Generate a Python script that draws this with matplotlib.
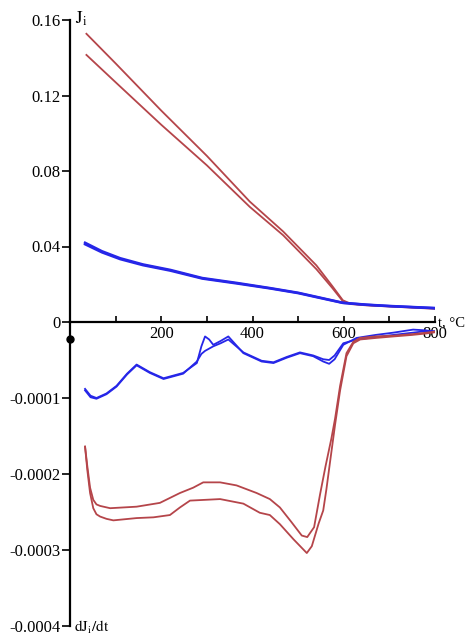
import matplotlib
matplotlib.use("Agg")
import matplotlib.pyplot as plt
from matplotlib.ticker import FixedLocator

plt.rcParams['font.family'] = ['Liberation Serif', 'DejaVu Serif']
plt.rcParams['mathtext.fontset'] = 'stix'

# ---------------- data: upper panel (J_i) ----------------
t_red_top = [36, 100, 200, 300, 394, 467, 540, 575, 598, 615, 650, 700, 750, 800]
j_red_a = [0.1527, 0.137, 0.112, 0.088, 0.0638, 0.048, 0.030, 0.019, 0.0115, 0.0097,
           0.0090, 0.0084, 0.0078, 0.0072]
j_red_b = [0.1415, 0.127, 0.1045, 0.083, 0.061, 0.046, 0.028, 0.018, 0.0110, 0.0095,
           0.0088, 0.0082, 0.0076, 0.0070]

t_blue_top = [33, 70, 110, 160, 220, 290, 366, 438, 500, 541, 598, 650, 700, 800]
j_blue_a = [0.0420, 0.0375, 0.0338, 0.0305, 0.0276, 0.0233, 0.0207, 0.0180, 0.0155,
            0.0133, 0.0102, 0.0092, 0.0085, 0.0074]
j_blue_b = [0.0412, 0.0369, 0.0333, 0.0301, 0.0272, 0.0230, 0.0204, 0.0178, 0.0153,
            0.0131, 0.0101, 0.0091, 0.0084, 0.0073]

# ---------------- data: lower panel (dJ_i/dt) ----------------
t_blue_bot = [33, 45, 58, 80, 102, 125, 146, 175, 205, 248, 278, 288, 296, 305, 314,
              330, 347, 380, 420, 446, 475, 504, 533, 555, 568, 580, 599, 628, 670,
              709, 752, 780, 800]
d_blue_a = [-8.8, -9.7, -10.0, -9.4, -8.4, -6.8, -5.6, -6.6, -7.4, -6.7, -5.4, -3.2,
            -1.9, -2.3, -3.0, -2.5, -1.9, -4.1, -5.2, -5.4, -4.7, -4.1, -4.5, -5.2,
            -5.5, -4.9, -3.0, -2.1, -1.7, -1.4, -1.0, -1.1, -1.3]
d_blue_b = [-9.0, -9.9, -10.1, -9.5, -8.5, -6.9, -5.7, -6.7, -7.5, -6.8, -5.2, -4.2,
            -3.8, -3.5, -3.2, -2.8, -2.3, -4.0, -5.1, -5.3, -4.6, -4.0, -4.4, -4.9,
            -5.0, -4.4, -2.8, -2.3, -2.0, -1.7, -1.4, -1.2, -1.2]

t_red_bot_a = [33, 38, 44, 51, 58, 66, 88, 146, 197, 241, 270, 292, 329, 365, 409,
               438, 460, 485, 508, 520, 535, 548, 560, 573, 581, 592, 606, 621, 636,
               670, 709, 750, 782, 800]
d_red_a = [-16.4, -19.0, -21.8, -23.4, -24.0, -24.2, -24.5, -24.3, -23.8, -22.5,
           -21.8, -21.1, -21.1, -21.5, -22.5, -23.3, -24.4, -26.3, -28.1, -28.3,
           -27.0, -22.7, -19.0, -15.3, -12.7, -8.4, -4.1, -2.6, -2.1, -1.9, -1.8,
           -1.6, -1.4, -1.25]

t_red_bot_b = [33, 38, 44, 51, 58, 66, 80, 95, 146, 183, 219, 241, 263, 329, 380,
               416, 438, 460, 490, 519, 530, 545, 555, 562, 570, 581, 592, 606, 621,
               636, 670, 709, 750, 782, 800]
d_red_b = [-16.4, -19.5, -22.5, -24.5, -25.3, -25.6, -25.9, -26.1, -25.8, -25.7,
           -25.4, -24.4, -23.5, -23.3, -23.9, -25.1, -25.4, -26.6, -28.6, -30.4,
           -29.5, -26.5, -24.8, -22.0, -18.4, -13.5, -9.0, -4.5, -2.8, -2.3, -2.1,
           -1.9, -1.7, -1.5, -1.35]
scale_bot = 1e-5

dot_t = [0]
dot_v = [-0.000022]

# ticks
x_major = [200, 400, 600, 800]
x_minor = [100, 300, 500, 700]
y_top_ticks = [0, 0.04, 0.08, 0.12, 0.16]
y_top_labels = ['0', '0.04', '0.08', '0.12', '0.16']
y_bot_ticks = [-0.0001, -0.0002, -0.0003, -0.0004]
y_bot_labels = ['-0.0001', '-0.0002', '-0.0003', '-0.0004']

RED = '#b5454a'
BLUE = '#2626e8'

W, H = 468, 638
fig = plt.figure(figsize=(W / 100, H / 100), dpi=100)
ax_top = fig.add_axes([70 / W, 316 / H, 365 / W, 302 / H])
ax_bot = fig.add_axes([70 / W, 12 / H, 365 / W, 304 / H])

for ax in (ax_top, ax_bot):
    ax.set_xlim(0, 800)
    ax.patch.set_alpha(0)
    for s in ('top', 'right'):
        ax.spines[s].set_visible(False)
    ax.spines['left'].set_linewidth(1.6)

ax_top.set_ylim(0, 0.16)
ax_bot.set_ylim(-0.0004, 0)

# curves
ax_top.plot(t_red_top, j_red_a, color=RED, lw=1.3)
ax_top.plot(t_red_top, j_red_b, color=RED, lw=1.3)
ax_top.plot(t_blue_top, j_blue_a, color=BLUE, lw=1.8)
ax_top.plot(t_blue_top, j_blue_b, color=BLUE, lw=1.8)

ax_bot.plot(t_blue_bot, [v * scale_bot for v in d_blue_a], color=BLUE, lw=1.3)
ax_bot.plot(t_blue_bot, [v * scale_bot for v in d_blue_b], color=BLUE, lw=1.3)
ax_bot.plot(t_red_bot_a, [v * scale_bot for v in d_red_a], color=RED, lw=1.3)
ax_bot.plot(t_red_bot_b, [v * scale_bot for v in d_red_b], color=RED, lw=1.3)
ax_bot.plot(dot_t, dot_v, 'o', color='black', ms=5, clip_on=False)

# x axis (bottom spine of top axes)
ax_top.spines['bottom'].set_linewidth(1.6)
ax_top.xaxis.set_major_locator(FixedLocator(x_major))
ax_top.xaxis.set_minor_locator(FixedLocator(x_minor))
ax_top.set_xticklabels([str(v) for v in x_major])
ax_top.tick_params(axis='x', which='both', direction='in', length=4, width=1.2,
                   pad=3, labelsize=12)

ax_top.set_yticks(y_top_ticks)
ax_top.set_yticklabels(y_top_labels)
ax_top.tick_params(axis='y', direction='out', length=6, width=1.2, pad=1,
                   labelsize=12)

ax_bot.spines['bottom'].set_visible(False)
ax_bot.set_xticks([])
ax_bot.set_yticks(y_bot_ticks)
ax_bot.set_yticklabels(y_bot_labels)
ax_bot.tick_params(axis='y', direction='out', length=6, width=1.2, pad=1,
                   labelsize=12)

# axis labels
fig.text(75 / W, 1 - 24 / H, r'$\mathrm{J_i}$', fontsize=13, va='baseline')
fig.text(74 / W, 1 - 632 / H, r'$\mathrm{dJ_i/dt}$', fontsize=11, va='baseline')
fig.text(438 / W, 1 - 326 / H, 't, \u00b0C', fontsize=10.5, va='baseline')

fig.savefig('out.png', dpi=100)
